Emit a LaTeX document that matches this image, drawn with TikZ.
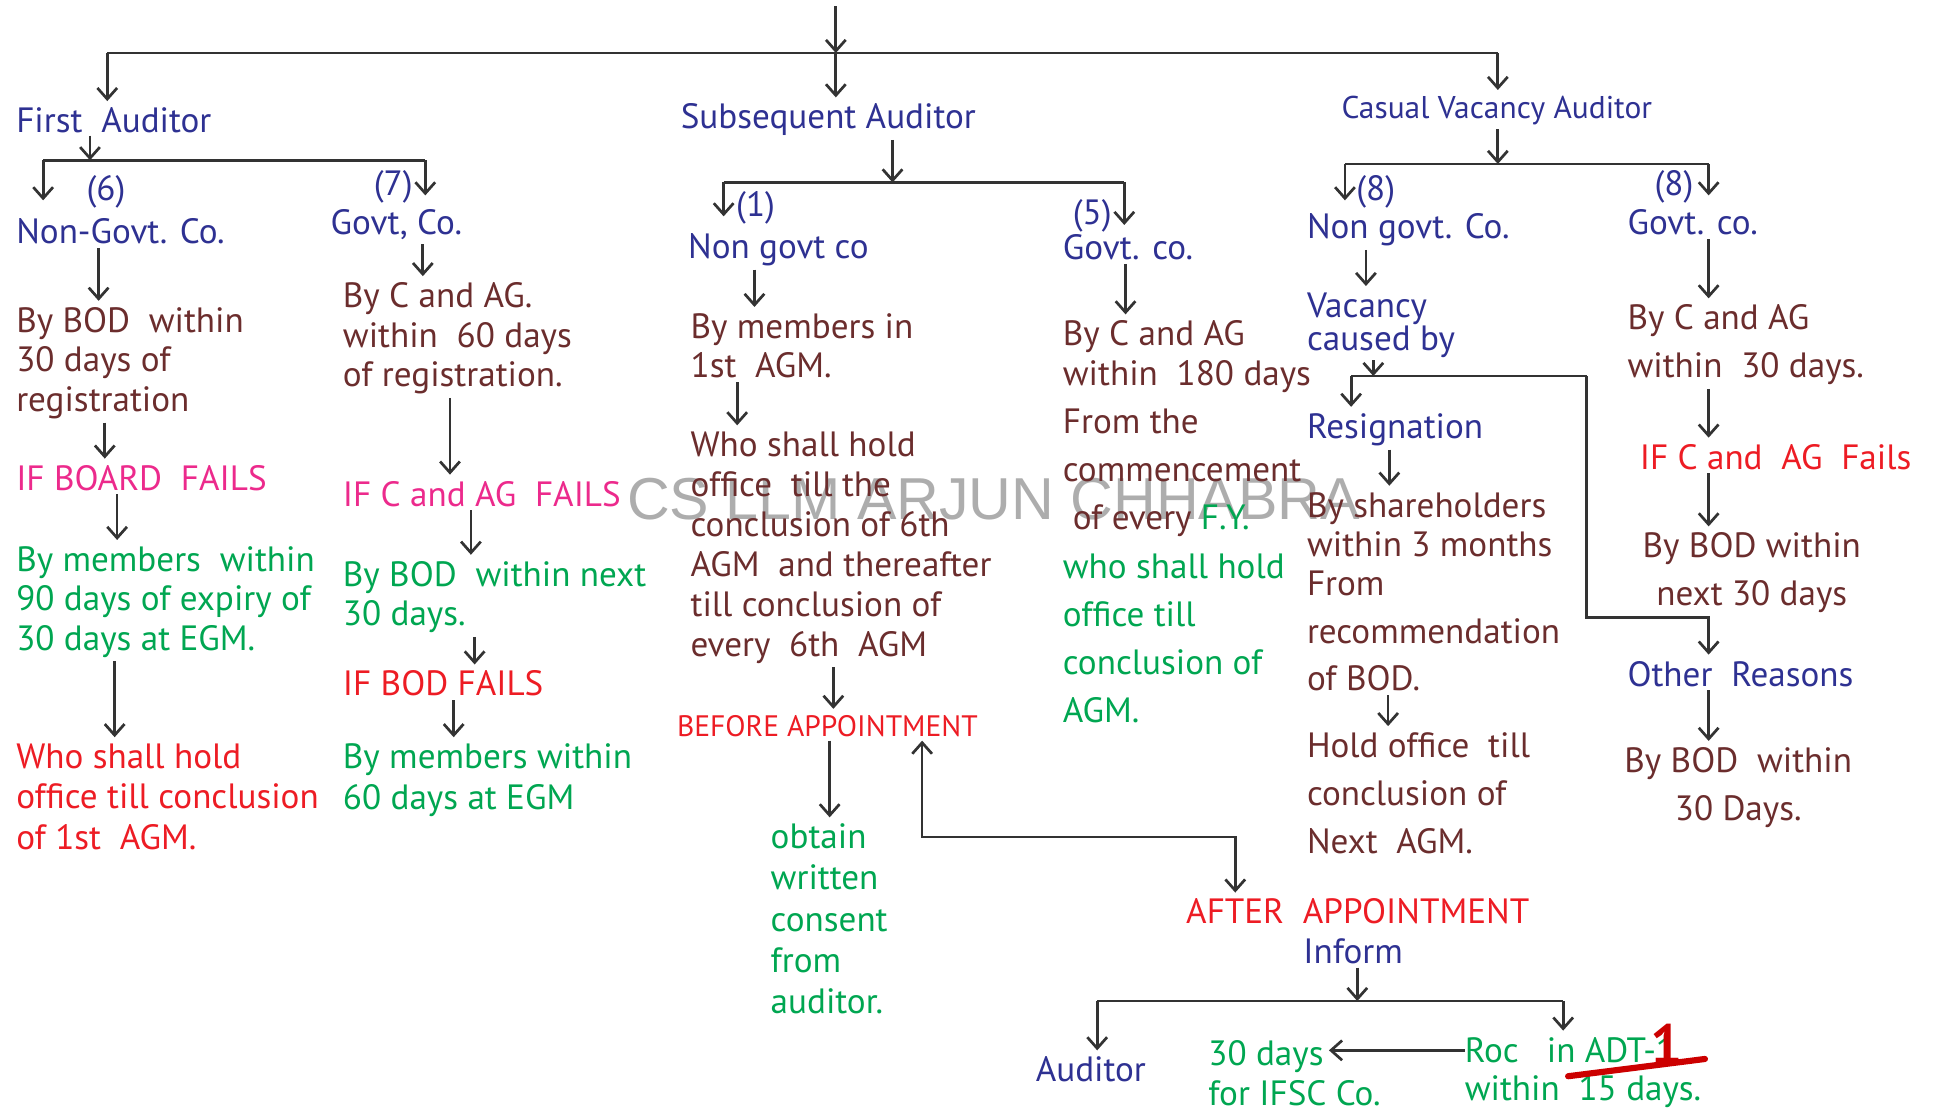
\documentclass[tikz,border=0pt]{standalone}
\usepackage{fontspec}
\setmainfont{PT Sans}
\newfontfamily\wmfont{Liberation Sans}
\usetikzlibrary{arrows.meta}
\definecolor{blu}{HTML}{2E3192}
\definecolor{brn}{HTML}{6B2D2D}
\definecolor{grn}{HTML}{00A651}
\definecolor{pnk}{HTML}{EC2A8C}
\definecolor{rd}{HTML}{ED1C24}
\definecolor{fix}{HTML}{CC0000}
\definecolor{ln}{HTML}{333333}
\tikzset{
  >={Straight Barb[length=9pt,width=16pt]},
  txt/.style={inner sep=0pt, anchor=north west, align=left, font=\fontsize{28.5}{32}\selectfont},
  head/.style={txt, text=blu},
  plain/.style={txt, text=brn},
  good/.style={txt, text=grn},
  warn/.style={txt, text=pnk},
  fail/.style={txt, text=rd},
  loose/.style={font=\fontsize{28.5}{39}\selectfont},
  bar/.style={draw=ln, line width=2.2pt},
  arr/.style={bar, ->},
  drop/.style={arr, shorten >=5pt},
  link/.style={arr, shorten >=5pt, shorten <=3pt},
  wmark/.style={inner sep=0pt, text=black!32, font=\wmfont\fontsize{48}{50}\selectfont},
}
\begin{document}
\begin{tikzpicture}[x=1pt,y=-1pt]
  \useasboundingbox (0,0) rectangle (1568,903);
  \node[wmark] (wm) at (806,405) {CS LLM ARJUN CHHABRA};

  \node[head] (first) at (13,87) {First\ \ Auditor};
  \node[head] (subsq) at (552,84) {Subsequent Auditor};
  \node[head, font=\fontsize{25.5}{28}\selectfont] (casual) at (1088,78) {Casual Vacancy Auditor};

  \node[head] (n6) at (70,142) {(6)};
  \node[head] (fngov) at (13,177) {Non-Govt. Co.};
  \node[head] (n7) at (303,138) {(7)};
  \node[head] (fgov) at (268,170) {Govt, Co.};
  \node[plain] (fbod) at (13,249) {By BOD\ \ within\\30 days of\\registration};
  \node[warn] (fboardfail) at (13,377) {IF BOARD\ \ FAILS};
  \node[good] (fmem) at (13,443) {By members\ \ within\\90 days of expiry of\\30 days at EGM.};
  \node[fail, font=\fontsize{28.5}{33}\selectfont] (fwho) at (13,603) {Who shall hold\\office till conclusion\\of 1st\ \ AGM.};
  \node[plain] (fcag) at (278,229) {By C and AG.\\within\ \ 60 days\\of registration.};
  \node[warn] (fcagfail) at (278,390) {IF C and AG\ \ FAILS};
  \node[good] (fbodnext) at (278,455) {By BOD\ \ within next\\30 days.};
  \node[fail] (fbodfail) at (278,544) {IF BOD FAILS};
  \node[good, font=\fontsize{28.5}{33}\selectfont] (fmem60) at (278,603) {By members within\\60 days at EGM};

  \node[head] (n1) at (597,155) {(1)};
  \node[head] (sngov) at (558,189) {Non govt co};
  \node[head] (n5) at (870,162) {(5)};
  \node[head] (sgov) at (862,190) {Govt. co.};
  \node[plain] (smem) at (560,254) {By members in\\1st\ \ AGM.};
  \node[plain, font=\fontsize{28.5}{32.4}\selectfont] (swho) at (560,350) {Who shall hold\\office\ \ till the\\conclusion of 6th\\AGM\ \ and thereafter\\till conclusion of\\every\ \ 6th\ \ AGM};
  \node[fail, font=\fontsize{24}{27}\selectfont] (before) at (549,580) {BEFORE APPOINTMENT};
  \node[good, font=\fontsize{28.5}{33.5}\selectfont] (consent) at (625,668) {obtain\\written\\consent\\from\\auditor.};
  \node[plain] (scag) at (862,260) {By C and AG\\within\ \ 180 days\\[7pt]From the\\[7pt]commencement\\[7pt]\hspace{8pt}of every \textcolor{grn}{F.Y.}};
  \node[good, loose] (shold) at (862,449) {who shall hold\\office till\\conclusion of\\AGM.};

  \node[head] (n8a) at (1100,142) {(8)};
  \node[head] (cngov) at (1060,173) {Non govt. Co.};
  \node[head] (n8b) at (1342,138) {(8)};
  \node[head] (cgov) at (1320,170) {Govt. co.};
  \node[head, font=\fontsize{28.5}{27}\selectfont] (vac) at (1060,237) {Vacancy\\caused by};
  \node[head] (resig) at (1060,335) {Resignation};
  \node[plain] (share) at (1060,399) {By shareholders\\within 3 months\\From\\[7pt]recommendation\\[6pt]of BOD.};
  \node[plain, loose] (hold) at (1060,594) {Hold office\ \ till\\conclusion of\\Next\ \ AGM.};
  \node[plain, loose] (ccag) at (1320,247) {By C and AG\\within\ \ 30 days.};
  \node[fail] (ccagfail) at (1330,360) {IF C and\ \ AG\ \ Fails};
  \node[plain, loose, anchor=north, align=center] (cbodnext) at (1421,432) {By BOD within\\next 30 days};
  \node[head] (other) at (1320,536) {Other\ \ Reasons};
  \node[plain, loose, anchor=north, align=center] (cbod30) at (1410,606) {By BOD\ \ within\\30 Days.};

  \node[fail] (after) at (962,729) {AFTER\ \ APPOINTMENT};
  \node[head] (inform) at (1057,761) {Inform};
  \node[head] (aud) at (840,857) {Auditor};
  \node[good] (ifsc) at (980,844) {30 days\\for IFSC Co.};
  \node[good, font=\fontsize{28.5}{31}\selectfont] (roc) at (1188,841) {Roc\ \ \ in ADT-1\\within\ \ 15 days.};
  \node[inner sep=0pt, text=fix, font=\bfseries\fontsize{46}{50}\selectfont] (one) at (1352,847) {1};
  \draw[fix, line width=5pt, line cap=round] (1272,873) -- (1383,859);

  \coordinate (top) at (678,5);
  \coordinate (tl) at (87,43);
  \coordinate (tm) at (678,43);
  \coordinate (tr) at (1215,43);
  \draw[arr] (top) -- (tm);
  \draw[bar] (tl) -- (tr);
  \draw[drop] (tl) -- (first.north -| tl);
  \draw[drop] (tm) -- (subsq.north -| tm);
  \draw[drop] (tr) -- (casual.north -| tr);

  \coordinate (fl) at (35,130);
  \coordinate (fm) at (73,130);
  \coordinate (fr) at (345,130);
  \draw[arr, shorten <=2pt] (first.south -| fm) -- (fm);
  \draw[bar] (fl) -- (fr);
  \draw[arr] (fl) -- (n6.base -| fl);
  \draw[arr] (fr) -- (n7.base -| fr);
  \draw[link] (fngov.south -| 80,0) -- (fbod.north -| 80,0);
  \draw[link] (fbod.south -| 85,0) -- (fboardfail.north -| 85,0);
  \draw[link] (fboardfail.south -| 95,0) -- (fmem.north -| 95,0);
  \draw[link] (fmem.south -| 93,0) -- (fwho.north -| 93,0);
  \draw[link] (fgov.south -| 343,0) -- (fcag.north -| 343,0);
  \draw[link] (fcag.south -| 365,0) -- (fcagfail.north -| 365,0);
  \draw[link] (fcagfail.south -| 382,0) -- (fbodnext.north -| 382,0);
  \draw[link] (fbodnext.south -| 385,0) -- (fbodfail.north -| 385,0);
  \draw[link] (fbodfail.south -| 368,0) -- (fmem60.north -| 368,0);

  \coordinate (sl) at (587,148);
  \coordinate (sm) at (724,148);
  \coordinate (sr) at (912,148);
  \draw[arr, shorten <=3pt] (subsq.south -| sm) -- (sm);
  \draw[bar] (sl) -- (sr);
  \draw[arr] (sl) -- (n1.base -| sl);
  \draw[arr] (sr) -- (n5.base -| sr);
  \draw[link] (sngov.south -| 612,0) -- (smem.north -| 612,0);
  \draw[link] (smem.south -| 598,0) -- (swho.north -| 598,0);
  \draw[link] (swho.south -| 676,0) -- (before.north -| 676,0);
  \draw[link] (before.south -| 673,0) -- (consent.north -| 673,0);
  \draw[link] (sgov.south -| 913,0) -- (scag.north -| 913,0);
  \coordinate (ba) at (875,679);
  \draw[link, <->] (before.south -| 748,0) |- (ba) -| (after.north -| 1002,0);

  \coordinate (cl) at (1091,133);
  \coordinate (cm) at (1215,133);
  \coordinate (cr) at (1386,133);
  \draw[arr, shorten <=3pt] (casual.south -| cm) -- (cm);
  \draw[bar] (cl) -- (cr);
  \draw[arr] (cl) -- (n8a.base -| cl);
  \draw[arr] (cr) -- (n8b.base -| cr);
  \draw[link] (cngov.south -| 1108,0) -- (vac.north -| 1108,0);
  \coordinate (vl) at (1096,305);
  \coordinate (vm) at (1114,305);
  \coordinate (vr) at (1287,305);
  \coordinate (ob) at (1336,501);
  \draw[arr, shorten <=2pt] (vac.south -| vm) -- (vm);
  \draw[bar] (vl) -- (vr);
  \draw[drop] (vl) -- (resig.north -| vl);
  \draw[drop] (vr) |- (ob) -| (other.north -| 1386,0);
  \draw[link] (resig.south -| 1127,0) -- (share.north -| 1127,0);
  \draw[link] (share.south -| 1126,0) -- (hold.north -| 1126,0);
  \draw[link] (cgov.south -| 1386,0) -- (ccag.north -| 1386,0);
  \draw[link] (ccag.south -| 1386,0) -- (ccagfail.north -| 1386,0);
  \draw[link] (ccagfail.south -| 1386,0) -- (cbodnext.north -| 1386,0);
  \draw[link] (other.south -| 1386,0) -- (cbod30.north -| 1386,0);

  \coordinate (al) at (890,812);
  \coordinate (am) at (1101,812);
  \coordinate (ar) at (1268,812);
  \coordinate (ifscin) at (1078,852);
  \draw[arr, shorten <=3pt] (inform.south -| am) -- (am);
  \draw[bar] (al) -- (ar);
  \draw[drop] (al) -- (aud.north -| al);
  \draw[drop] (ar) -- (roc.north -| ar);
  \draw[arr] (roc.west |- ifscin) -- (ifscin);
\end{tikzpicture}
\end{document}
